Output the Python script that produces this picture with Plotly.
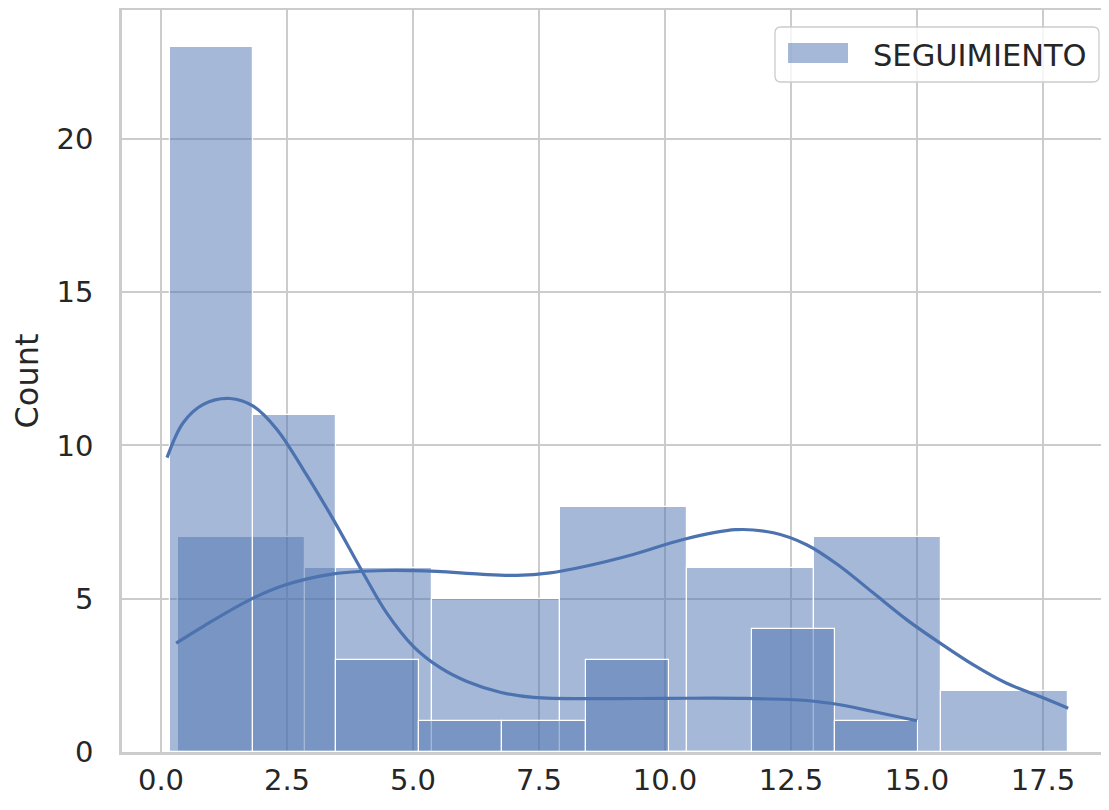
import numpy as np
import plotly.graph_objects as go

# ---------------- data ----------------
# histogram 1 (narrow bins)
bins_a_min, bins_a_max = 0.18, 15.02
counts_a = [23, 11, 3, 1, 1, 3, 0, 4, 1]
# histogram 2 (wide bins)
bins_b_min, bins_b_max = 0.34, 18.0
counts_b = [7, 6, 5, 8, 6, 7, 2]

# KDE curves
kde_a_x = [0.12, 0.44, 0.84, 1.37, 1.83, 2.30, 2.82, 3.42, 4.01, 4.48, 5.01, 5.54,
           6.07, 6.73, 7.39, 8.71, 10.03, 11.49, 12.81, 13.47, 14.13, 15.0]
kde_a_y = [9.6, 10.74, 11.34, 11.53, 11.28, 10.52, 9.22, 7.58, 5.84, 4.53, 3.44, 2.75,
           2.30, 1.95, 1.78, 1.74, 1.75, 1.75, 1.68, 1.54, 1.32, 1.02]
kde_b_x = [0.30, 0.84, 1.77, 2.49, 3.42, 4.48, 5.47, 6.33, 7.06, 7.72, 8.38, 9.37,
           10.36, 11.40, 12.15, 12.81, 13.47, 14.13, 14.80, 15.46, 16.12, 16.78, 17.44, 18.0]
kde_b_y = [3.55, 4.10, 4.97, 5.46, 5.81, 5.92, 5.89, 5.80, 5.76, 5.84, 6.04, 6.44,
           6.93, 7.25, 7.15, 6.76, 6.06, 5.19, 4.31, 3.55, 2.84, 2.24, 1.81, 1.43]

x_ticks = [0.0, 2.5, 5.0, 7.5, 10.0, 12.5, 15.0, 17.5]
x_tick_labels = ["0.0", "2.5", "5.0", "7.5", "10.0", "12.5", "15.0", "17.5"]
y_ticks = [0, 5, 10, 15, 20]
legend_label = "SEGUIMIENTO"
y_title = "Count"

# ---------------- style ----------------
BLUE = "#4c72b0"
FILL = "rgba(76,114,176,0.5)"
GRID = "#cccccc"
TXT = "#262626"
FONT = "DejaVu Sans"

OFF = 8                      # page offset of the figure
W, H = 1109 - OFF, 810 - OFF
ML, MR, MT, MB = 122 - OFF, 0, 10 - OFF, 810 - 752

edges_a = np.linspace(bins_a_min, bins_a_max, len(counts_a) + 1)
edges_b = np.linspace(bins_b_min, bins_b_max, len(counts_b) + 1)

fig = go.Figure()

def add_hist(edges, counts):
    centers = (edges[:-1] + edges[1:]) / 2
    widths = np.diff(edges)
    fig.add_trace(go.Bar(
        x=centers, y=counts, width=widths,
        marker=dict(color=FILL, line=dict(color="white", width=1.2)),
        showlegend=False, hoverinfo="x+y",
    ))

add_hist(edges_b, counts_b)
add_hist(edges_a, counts_a)

for kx, ky in ((kde_a_x, kde_a_y), (kde_b_x, kde_b_y)):
    fig.add_trace(go.Scatter(
        x=kx, y=ky, mode="lines",
        line=dict(color=BLUE, width=3.2, shape="spline", smoothing=1.0),
        showlegend=False, hoverinfo="skip",
    ))

# ---------------- custom legend (matplotlib style) ----------------
pw, ph = W - ML - MR, H - MT - MB
def px2paper(x, y):
    # x, y given in reference-picture pixels
    x -= OFF
    y -= OFF
    return (x - ML) / pw, (H - MB - y) / ph

bx0, by0, bx1, by1, r = 775, 27, 1099, 82, 6
def P(x, y):
    a, b = px2paper(x, y)
    return f"{a:.5f},{b:.5f}"
path = (f"M{P(bx0 + r, by0)} L{P(bx1 - r, by0)} Q{P(bx1, by0)} {P(bx1, by0 + r)} "
        f"L{P(bx1, by1 - r)} Q{P(bx1, by1)} {P(bx1 - r, by1)} "
        f"L{P(bx0 + r, by1)} Q{P(bx0, by1)} {P(bx0, by1 - r)} "
        f"L{P(bx0, by0 + r)} Q{P(bx0, by0)} {P(bx0 + r, by0)} Z")
shapes = [dict(type="path", path=path, xref="paper", yref="paper",
               fillcolor="rgba(255,255,255,0.8)", line=dict(color=GRID, width=1.3),
               layer="above")]
px0, py0 = px2paper(788, 43)
px1, py1 = px2paper(848, 63)
shapes.append(dict(type="rect", xref="paper", yref="paper", x0=px0, y0=py1, x1=px1, y1=py0,
                   fillcolor=FILL, line=dict(width=0), layer="above"))
tx, ty = px2paper(871, 55)
annotations = [dict(text=legend_label, x=tx, y=ty, xref="paper", yref="paper",
                    xanchor="left", yanchor="middle", showarrow=False,
                    font=dict(family=FONT, size=30.5, color=TXT))]

fig.update_layout(
    width=W, height=H,
    margin=dict(l=ML, r=MR, t=MT, b=MB, autoexpand=False),
    paper_bgcolor="white", plot_bgcolor="white",
    barmode="overlay", bargap=0,
    showlegend=False,
    font=dict(family=FONT, size=29, color=TXT),
    shapes=shapes, annotations=annotations,
)
fig.update_xaxes(
    range=[-0.774, 18.81], tickmode="array", tickvals=x_ticks, ticktext=x_tick_labels,
    showgrid=True, gridcolor=GRID, gridwidth=2, zeroline=False,
    showline=True, linecolor=GRID, linewidth=2.5, mirror=True,
    ticks="", ticklabelstandoff=0, tickfont=dict(family=FONT, size=29, color=TXT),
)
fig.update_yaxes(
    range=[0, 24.2], tickmode="array", tickvals=y_ticks,
    showgrid=True, gridcolor=GRID, gridwidth=2, zeroline=False,
    showline=True, linecolor=GRID, linewidth=2.5, mirror=False,
    ticks="", ticklabelstandoff=20, tickfont=dict(family=FONT, size=29, color=TXT),
    title=dict(text=y_title, font=dict(family=FONT, size=32, color=TXT), standoff=16),
)

fig.write_html("out.html")
